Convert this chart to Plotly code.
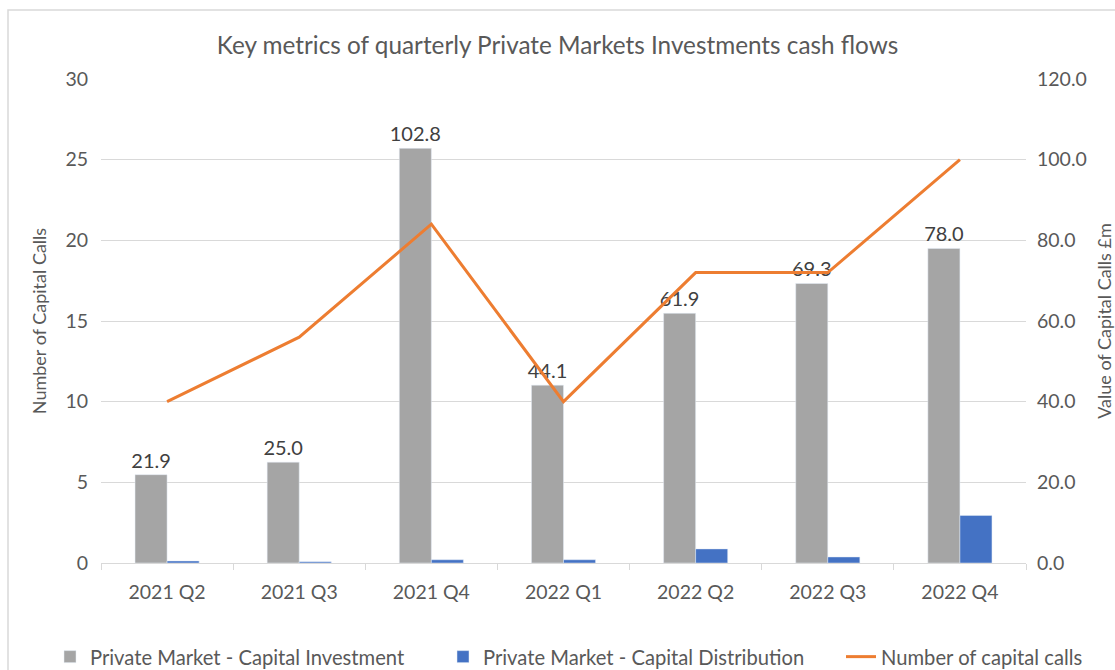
import plotly.graph_objects as go

quarters = ["2021 Q2", "2021 Q3", "2021 Q4", "2022 Q1", "2022 Q2", "2022 Q3", "2022 Q4"]
capital_investment = [21.9, 25.0, 102.8, 44.1, 61.9, 69.3, 78.0]
capital_distribution = [0.5, 0.3, 0.8, 0.8, 3.5, 1.5, 11.8]
number_of_calls = [10, 14, 21, 10, 18, 18, 25]

FONT = "Lato"
TXT = "#595959"
W, H = 1115, 670
L, R, T, B = 101, 89, 79, 107
PW, PH = W - L - R, H - T - B


def px_x(x):
    return (x - L) / PW


def px_y(y):
    return (H - B - y) / PH


fig = go.Figure()
fig.add_trace(go.Bar(
    x=quarters, y=capital_investment, name="Private Market - Capital Investment",
    marker=dict(color="#A5A5A5"), yaxis="y", legend="legend", showlegend=True,
    text=capital_investment, texttemplate="%{y:.1f}", textposition="outside",
    constraintext="none",
    textfont=dict(size=20, color="#404040", family=FONT), cliponaxis=False,
))
fig.add_trace(go.Bar(
    x=quarters, y=capital_distribution, name="Private Market - Capital Distribution",
    marker=dict(color="#4472C4"), yaxis="y", legend="legend2", showlegend=True,
))
fig.add_trace(go.Scatter(
    x=quarters, y=number_of_calls, name="Number of capital calls",
    mode="lines", line=dict(color="#ED7D31", width=3), yaxis="y2", legend="legend3",
    showlegend=True,
))

leg_common = dict(orientation="h", xanchor="left", yanchor="middle",
                  xref="container", yref="container", y=1 - 657 / H,
                  font=dict(size=20.2, color=TXT), itemwidth=30, bgcolor="rgba(0,0,0,0)")

fig.update_layout(
    width=W, height=H, showlegend=True,
    margin=dict(l=L, r=R, t=T, b=B, autoexpand=False),
    paper_bgcolor="white", plot_bgcolor="white",
    font=dict(family=FONT, size=19, color=TXT),
    title=dict(text="Key metrics of quarterly Private Markets Investments cash flows",
               x=0.5, xanchor="center", y=1 - 45 / H, yanchor="middle",
               font=dict(size=24.3, color=TXT, family=FONT)),
    barmode="group", bargap=0.515, bargroupgap=0,
    xaxis=dict(showgrid=False, showline=True, linecolor="#D9D9D9", linewidth=1,
               ticks="outside", tickcolor="#D9D9D9", ticklen=6,
               tickson="boundaries", ticklabelstandoff=12,
               tickfont=dict(size=19.5, color=TXT)),
    yaxis=dict(side="right", range=[0, 120], dtick=20, tickformat=".1f",
               showgrid=True, gridcolor="#D9D9D9", gridwidth=1, zeroline=False,
               title=dict(text="Value of Capital Calls £m", font=dict(size=18, color=TXT), standoff=14),
               tickfont=dict(size=19.5, color=TXT), ticks="", ticklabelstandoff=10),
    yaxis2=dict(side="left", overlaying="y", range=[0, 30], dtick=5,
                showgrid=False, zeroline=False,
                title=dict(text="Number of Capital Calls", font=dict(size=18, color=TXT), standoff=14),
                tickfont=dict(size=19.5, color=TXT), ticks="", ticklabelstandoff=12),
    legend=dict(x=50 / W, **leg_common),
    legend2=dict(x=443 / W, **leg_common),
    legend3=dict(x=841 / W, **leg_common),
    shapes=[dict(type="rect", xref="paper", yref="paper",
                 x0=px_x(8), x1=px_x(1130),
                 y0=px_y(700), y1=px_y(10),
                 line=dict(color="#D9D9D9", width=1.5), layer="below")],
)

fig.write_html("out.html", config=dict(displayModeBar=False),
               post_script="document.body.style.margin='0';document.body.style.overflow='hidden';")
